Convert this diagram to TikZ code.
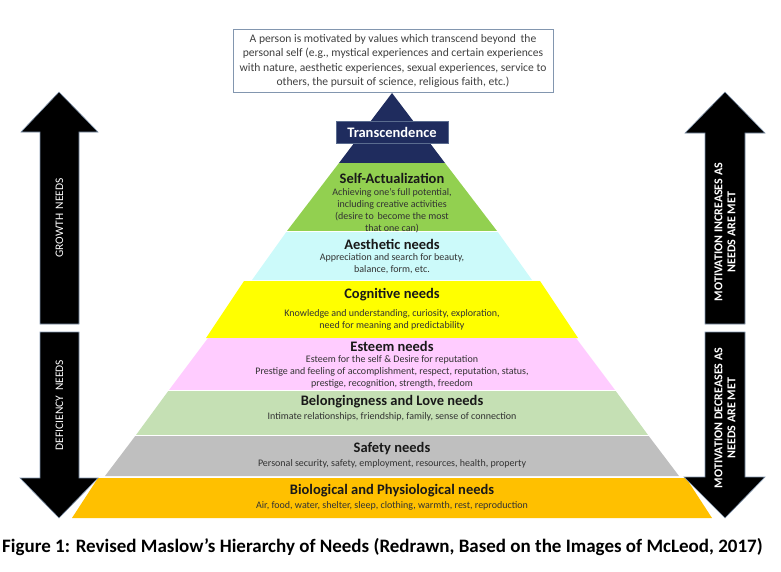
\documentclass[tikz,border=0pt]{standalone}
\usepackage{fontspec}
\setmainfont{Carlito}
\definecolor{navy}{RGB}{31,44,94}
\definecolor{selfgreen}{HTML}{92D050}
\definecolor{aescyan}{HTML}{CCFAFA}
\definecolor{cogyellow}{HTML}{FFFF00}
\definecolor{estpink}{HTML}{FFCCFF}
\definecolor{belgreen}{HTML}{C5E0B4}
\definecolor{safgray}{HTML}{BFBFBF}
\definecolor{bioorange}{HTML}{FFC000}
\definecolor{boxline}{RGB}{130,150,175}
\definecolor{subtext}{RGB}{50,50,50}
\newcommand\pyrband[5]{\fill[#1] ({392-#3},#2) -- ({392+#3},#2) -- ({392+#5},#4) -- ({392-#5},#4) -- cycle;}
\begin{document}
\begin{tikzpicture}[x=1pt,y=-1pt,
  bigarrow/.style={fill=black,draw=boxline,line width=0.6pt},
  titletext/.style={font=\fontsize{14.5}{16}\selectfont\bfseries,text=black!90,inner sep=0pt},
  subtitletext/.style={font=\fontsize{10}{12}\selectfont,text=subtext,align=center,inner sep=0pt},
  arrowtext/.style={font=\fontsize{11.5}{13}\selectfont,text=white,rotate=90,align=center,inner sep=0pt},
  arrowtextb/.style={font=\fontsize{12}{13}\selectfont\bfseries,text=white,rotate=90,align=center,inner sep=0pt}]
\useasboundingbox (0,0) rectangle (781,571);
% pyramid bands
\fill[navy] (392,93) -- (445,163) -- (339,163) -- cycle;
\pyrband{selfgreen}{163}{53}{231}{105}
\pyrband{aescyan}{231}{105}{280}{140}
\pyrband{cogyellow}{281}{148}{338}{186}
\pyrband{estpink}{338}{184}{390}{223}
\pyrband{belgreen}{390}{223}{435}{256}
\pyrband{safgray}{435}{256}{476}{287}
\pyrband{bioorange}{478}{294}{518}{320}
% white separators
\foreach \yy/\hw in {231/105,390/223,435/256}{\draw[white,line width=0.8pt] ({392-\hw-2},\yy) -- ({392+\hw+2},\yy);}
% top description box
\node[draw=boxline,line width=0.6pt,fill=white,minimum width=320pt,minimum height=63pt,inner sep=0pt,
  font=\fontsize{11.6}{14.5}\selectfont,text=black!75,align=center] (desc) at (393,61)
  {A person is motivated by values which transcend beyond\, the\\personal self (e.g., mystical experiences and certain experiences\\with nature, aesthetic experiences, sexual experiences, service to\\others, the pursuit of science, religious faith, etc.)};
% transcendence label
\node[fill=navy,draw=boxline!60!navy,line width=0.5pt,minimum width=112pt,minimum height=22pt,inner sep=0pt,
  font=\fontsize{14.5}{16}\selectfont\bfseries,text=white] (trans) at (392,132) {Transcendence};
% band texts
\node[titletext] (selft) at (392,178) {Self-Actualization};
\node[subtitletext] (selfs) at (392,210.5) {Achieving one's full potential,\\including creative activities\\(desire to\, become the most\\that one can)};
\node[titletext] (aest) at (392,244) {Aesthetic needs};
\node[subtitletext] (aess) at (392,263.5) {Appreciation and search for beauty,\\balance, form, etc.};
\node[titletext] (cogt) at (392,295) {Cognitive needs};
\node[subtitletext] (cogs) at (392,320) {Knowledge and understanding, curiosity, exploration,\\need for meaning and predictability};
\node[titletext] (estt) at (392,346) {Esteem needs};
\node[subtitletext] (ests) at (392,372) {Esteem for the self \& Desire for reputation\\Prestige and feeling of accomplishment, respect, reputation, status,\\prestige, recognition, strength, freedom};
\node[titletext] (belt) at (392,402) {Belongingness and Love needs};
\node[subtitletext] (bels) at (392,417) {Intimate relationships, friendship, family, sense of connection};
\node[titletext] (saft) at (392,449) {Safety needs};
\node[subtitletext] (safs) at (392,464) {Personal security, safety, employment, resources, health, property};
\node[titletext] (biot) at (392,491) {Biological and Physiological needs};
\node[subtitletext] (bios) at (392,505.5) {Air, food, water, shelter, sleep, clothing, warmth, rest, reproduction};
% left arrows
\path[bigarrow] (59,92) -- (98,132) -- (79,132) -- (79,324) -- (40,324) -- (40,132) -- (21,132) -- cycle;
\path[bigarrow] (40,332) -- (79,332) -- (79,478) -- (98,478) -- (59,518) -- (20,478) -- (40,478) -- cycle;
\node[arrowtext] (growth) at (59.5,218) {GROWTH\, NEEDS};
\node[arrowtext] (defic) at (59.5,405) {DEFICIENCY\, NEEDS};
% right arrows
\path[bigarrow] (725,92) -- (765,133) -- (745,133) -- (745,324) -- (705,324) -- (705,133) -- (685,133) -- cycle;
\path[bigarrow] (705,332) -- (745,332) -- (745,477) -- (765,477) -- (725,518) -- (684,477) -- (705,477) -- cycle;
\node[arrowtextb] (incr) at (725,232) {MOTIVATION INCREASES AS\\NEEDS ARE MET};
\node[arrowtextb] (decr) at (725,418) {MOTIVATION DECREASES AS\\NEEDS ARE MET};
% caption
\node[font=\fontsize{19}{21}\selectfont\bfseries,inner sep=0pt,anchor=west] (caption) at (2,547)
  {Figure 1: Revised Maslow’s Hierarchy of Needs (Redrawn, Based on the Images of McLeod, 2017)};
\end{tikzpicture}
\end{document}
